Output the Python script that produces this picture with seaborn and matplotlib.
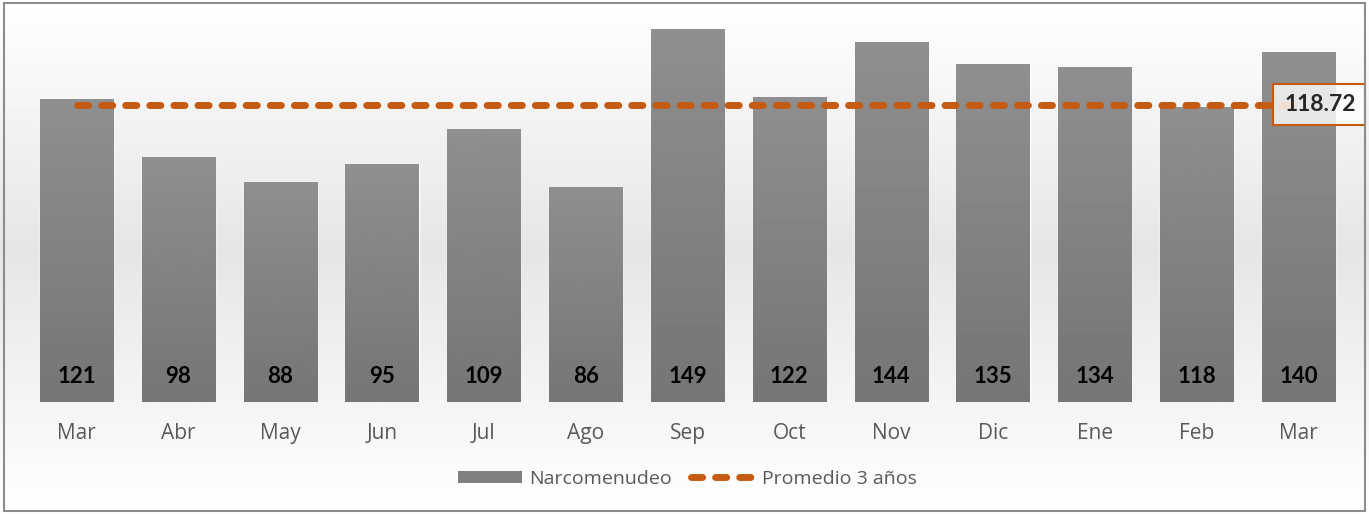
import matplotlib
matplotlib.use('Agg')
import matplotlib.pyplot as plt
import seaborn as sns
import pandas as pd
import numpy as np
from matplotlib.patches import Rectangle, Patch
from matplotlib.lines import Line2D

months = ["Mar", "Abr", "May", "Jun", "Jul", "Ago", "Sep", "Oct", "Nov", "Dic", "Ene", "Feb", "Mar"]
narcomenudeo = [121, 98, 88, 95, 109, 86, 149, 122, 144, 135, 134, 118, 140]
promedio = 118.72

df = pd.DataFrame({"pos": range(len(months)), "mes": months, "valor": narcomenudeo})

sns.set_style("white")
plt.rcParams['font.family'] = ['Open Sans', 'DejaVu Sans']

fig = plt.figure(figsize=(13.69, 5.14), dpi=100)

# background gradient (white -> light gray -> white)
bg = fig.add_axes([0, 0, 1, 1], zorder=-10)
g = np.concatenate([np.linspace(1.0, 0.90, 250), np.linspace(0.90, 1.0, 264)])
bg.imshow(np.tile(g[:, None], (1, 10)), cmap="gray", vmin=0, vmax=1, aspect="auto", extent=[0, 1, 0, 1])
bg.set_axis_off()
fig.patches.append(Rectangle((0.003, 0.005), 0.994, 0.99, transform=fig.transFigure,
                             fill=False, edgecolor="#8c8c8c", linewidth=1.5))

ax = fig.add_axes([25.6 / 1369, 112 / 514, 1323.8 / 1369, 388 / 514])
ax.patch.set_alpha(0)

sns.barplot(data=df, x="pos", y="valor", color="#888888", width=0.72, ax=ax, saturation=1)

# vertical gradient inside each bar
grad = np.linspace(0.56, 0.46, 100)[:, None]
for p in ax.patches:
    x0, w, h = p.get_x(), p.get_width(), p.get_height()
    im = ax.imshow(grad, cmap="gray", vmin=0, vmax=1, aspect="auto",
                   extent=[x0, x0 + w, 0, h], origin="upper", zorder=p.get_zorder() + 0.1)
    im.set_clip_path(p)

ax.plot([0, len(months) - 1], [promedio, promedio], color="#C55A11", linewidth=5,
        linestyle=(0, (1.6, 1.87)), dash_capstyle="round", zorder=5)

for i, v in enumerate(narcomenudeo):
    ax.text(i, 10, str(v), ha="center", va="center", fontsize=16, fontweight="bold",
            family=["Lato", "DejaVu Sans"], color="black", zorder=6)

ax.text((1356 - 25.6) / 1323.8, promedio, f"{promedio:.2f}", transform=ax.get_yaxis_transform(),
        ha="right", va="center", fontsize=16.5, fontweight="bold", family=["Lato", "DejaVu Sans"],
        zorder=7)
ax.add_patch(Rectangle((len(months) - 1 - 0.25, promedio - 8.2), 0.9, 16.4,
                       facecolor=(1, 1, 1, 0.8), edgecolor="#C55A11", linewidth=1.5,
                       zorder=6.5, clip_on=False))

ax.set_xlim(-0.5, len(months) - 0.5)
ax.set_ylim(0, 155)
ax.set_xticks(range(len(months)))
ax.set_xticklabels(months, fontsize=15, color="#595959")
ax.tick_params(axis="x", length=0, pad=15)
ax.set_yticks([])
ax.set_xlabel("")
ax.set_ylabel("")
for s in ax.spines.values():
    s.set_visible(False)

handles = [Patch(facecolor="#808080", edgecolor="none"),
           Line2D([], [], color="#C55A11", linewidth=5, linestyle=(0, (1.6, 1.87)),
                  dash_capstyle="round")]
leg = ax.legend(handles, ["Narcomenudeo", "Promedio 3 años"], loc="upper center",
                bbox_to_anchor=(0.5, -0.13), ncol=2, frameon=False, fontsize=14,
                handlelength=3.3, handleheight=0.6, columnspacing=1.0, handletextpad=0.35)
for t in leg.get_texts():
    t.set_color("#595959")

plt.savefig("out.png", dpi=100)
